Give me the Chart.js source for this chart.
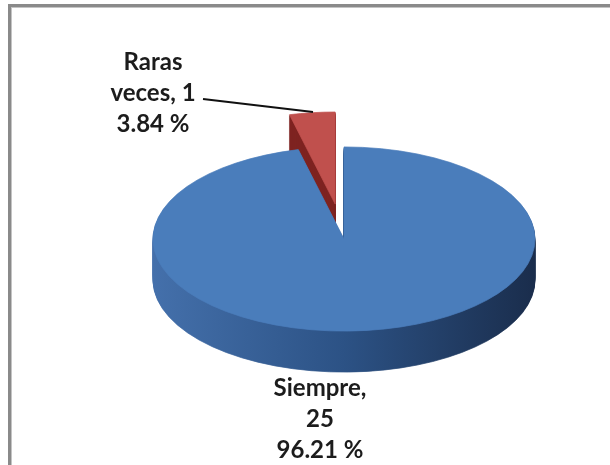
<!DOCTYPE html>
<html>
<head>
<meta charset="utf-8">
<script src="https://cdn.jsdelivr.net/npm/chart.js@4.4.1/dist/chart.umd.min.js"></script>
<style>
  html, body { margin: 0; padding: 0; background: #ffffff; }
  #wrap { position: relative; width: 610px; height: 465px; }
</style>
</head>
<body>
<div id="wrap"><canvas id="pieChart" width="610" height="465"></canvas></div>
<script>
// Data
const categories = ['Siempre', 'Raras veces'];
const counts = [25, 1];
const pctLabels = ['96.21 %', '3.84 %'];

const TILT = 0.482;   // vertical squash of the pie
const DEPTH = 41;     // thickness of the 3D side

// Wrap "category, value" like Excel does
function wrapLabel(ctx, text, maxWidth) {
    const words = text.split(' ');
    const lines = [];
    let line = '';
    words.forEach(w => {
        const test = line ? line + ' ' + w : w;
        if (line && ctx.measureText(test).width > maxWidth) {
            lines.push(line);
            line = w;
        } else {
            line = test;
        }
    });
    if (line) lines.push(line);
    return lines;
}

// Fake 3D: squash the arcs and stack darker copies underneath
const pie3d = {
    id: 'pie3d',
    beforeDraw(chart) {
        const ctx = chart.ctx;
        ctx.save();
        ctx.fillStyle = '#8a8a8a';
        ctx.fillRect(8, 4, 602, 3);
        ctx.fillRect(8, 4, 3, 461);
        ctx.fillStyle = '#c4c4c4';
        ctx.fillRect(11, 7, 599, 1);
        ctx.fillRect(11, 7, 1, 458);
        ctx.restore();
    },
    beforeDatasetsDraw(chart) {
        const ctx = chart.ctx;
        const meta = chart.getDatasetMeta(0);
        const cx = meta.data[0].x;
        const cy = meta.data[0].y;
        const r = meta.data[0].outerRadius;

        const sideBlue = ctx.createLinearGradient(cx - r, 0, cx + r, 0);
        sideBlue.addColorStop(0, '#4470ab');
        sideBlue.addColorStop(0.5, '#2c5285');
        sideBlue.addColorStop(1, '#1a2d4c');
        const sides = [sideBlue, '#7e2321'];

        // draw every arc squashed, pushed out along its middle angle
        const drawArcs = (dy, colors) => {
            meta.data.forEach((arc, i) => {
                const o = arc.options;
                const off = o.offset || 0;
                const mid = (arc.startAngle + arc.endAngle) / 2;
                const saved = [o.offset, o.backgroundColor, o.borderColor];
                ctx.save();
                ctx.translate(0, dy);
                ctx.translate(cx, cy);
                ctx.scale(1, TILT);
                ctx.translate(-cx, -cy);
                ctx.translate(Math.cos(mid) * off, Math.sin(mid) * off);
                o.offset = 0;
                if (colors) {
                    o.backgroundColor = colors[i];
                    o.borderColor = colors[i];
                }
                arc.draw(ctx);
                o.offset = saved[0];
                o.backgroundColor = saved[1];
                o.borderColor = saved[2];
                ctx.restore();
            });
        };

        for (let d = DEPTH; d >= 1; d--) {
            drawArcs(d, sides);
        }
        drawArcs(0, null);
        return false;
    },
    afterDraw(chart) {
        const ctx = chart.ctx;
        ctx.save();
        ctx.font = 'bold 24px Lato, "Open Sans", sans-serif';
        ctx.fillStyle = '#1c1c1c';
        ctx.textAlign = 'center';
        ctx.textBaseline = 'middle';

        const anchors = [
            { x: 320, y: 388 },   // Siempre
            { x: 153, y: 62 }     // Raras veces
        ];
        categories.forEach((cat, i) => {
            const lines = wrapLabel(ctx, cat + ', ' + counts[i], 100);
            lines.push(pctLabels[i]);
            lines.forEach((t, j) => {
                ctx.fillText(t, anchors[i].x, anchors[i].y + j * 31);
            });
        });

        // leader line for the small slice
        ctx.strokeStyle = '#111111';
        ctx.lineWidth = 2;
        ctx.beginPath();
        ctx.moveTo(203, 99);
        ctx.lineTo(313, 112);
        ctx.stroke();
        ctx.restore();
    }
};

const ctx = document.getElementById('pieChart').getContext('2d');

new Chart(ctx, {
    type: 'pie',
    data: {
        labels: categories,
        datasets: [{
            data: counts,
            backgroundColor: ['#4a7dbb', '#c0504d'],
            borderColor: ['#4a7dbb', '#c0504d'],
            borderWidth: 1,
            offset: [0, 73],
            clip: false
        }]
    },
    options: {
        responsive: false,
        devicePixelRatio: 1,
        animation: false,
        events: [],
        radius: 191,
        layout: {
            padding: { left: 100, right: 22, top: 13, bottom: 0 }
        },
        plugins: {
            legend: { display: false },
            tooltip: { enabled: false }
        }
    },
    plugins: [pie3d]
});
</script>
</body>
</html>
